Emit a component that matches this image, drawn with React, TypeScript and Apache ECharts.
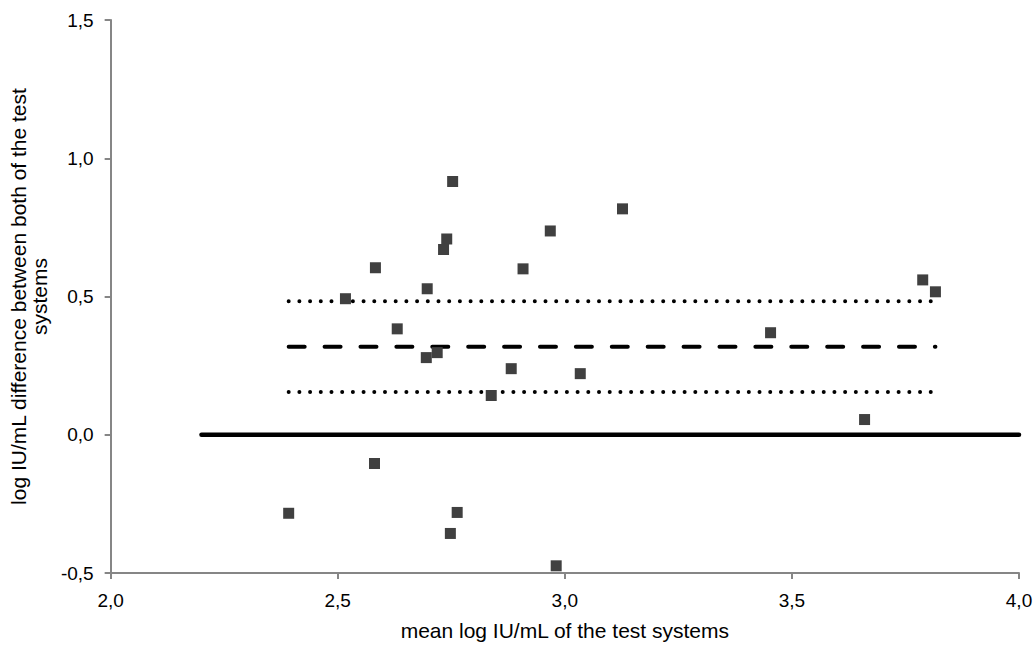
import React, { useEffect, useRef } from "react";
import * as echarts from "echarts";

// Bland-Altman style data: mean log IU/mL (x) vs difference (y)
const meanLog: number[] = [
  2.392, 2.517, 2.583, 2.581, 2.631, 2.695, 2.697, 2.719, 2.733, 2.740, 2.753, 2.748,
  2.763, 2.838, 2.882, 2.908, 2.968, 2.981, 3.034, 3.127, 3.453, 3.660, 3.788, 3.816,
];
const diffLog: number[] = [
  -0.284, 0.492, 0.604, -0.104, 0.383, 0.279, 0.528, 0.297, 0.670, 0.708, 0.916, -0.357,
  -0.281, 0.142, 0.239, 0.600, 0.737, -0.474, 0.221, 0.817, 0.369, 0.055, 0.560, 0.517,
];

const meanDiff = 0.318;
const upperLimit = 0.483;
const lowerLimit = 0.155;
const zeroLine = 0;
const zeroLineRange: number[] = [2.2, 4.0];

const xTicks = { min: 2.0, max: 4.0, interval: 0.5 };
const yTicks = { min: -0.5, max: 1.5, interval: 0.5 };

const xTitle = "mean log IU/mL of the test systems";
const yTitle = "log IU/mL difference between both of the test\nsystems";

const FONT = "'Liberation Sans', Arial, sans-serif";
const fmt = (v: number) => v.toFixed(1).replace(".", ",");

export default function App() {
  const ref = useRef<HTMLDivElement>(null);
  useEffect(() => {
    if (!ref.current) return;
    const chart = echarts.init(ref.current, null, { renderer: "svg" });
    const xMin = Math.min(...meanLog);
    const xMax = Math.max(...meanLog);
    const points = meanLog.map((x, i) => [x, diffLog[i]]);
    const axisLine = { lineStyle: { color: "#868686", width: 2 } };
    chart.setOption({
      animation: false,
      backgroundColor: "#ffffff",
      grid: { left: 109, right: 17, top: 20, bottom: 72, containLabel: false },
      xAxis: {
        type: "value",
        min: xTicks.min,
        max: xTicks.max,
        interval: xTicks.interval,
        name: xTitle,
        nameLocation: "middle",
        nameGap: 47,
        nameTextStyle: { fontFamily: FONT, fontSize: 21, color: "#000" },
        axisLine: { ...axisLine, onZero: false },
        axisTick: { show: true, length: 6, lineStyle: { color: "#868686", width: 2 } },
        axisLabel: { formatter: fmt, fontFamily: FONT, fontSize: 19, color: "#000", margin: 18 },
        splitLine: { show: false },
      },
      yAxis: {
        type: "value",
        min: yTicks.min,
        max: yTicks.max,
        interval: yTicks.interval,
        name: yTitle,
        nameLocation: "middle",
        nameRotate: 90,
        nameGap: 56,
        nameTextStyle: { fontFamily: FONT, fontSize: 21, lineHeight: 21, color: "#000", align: "center" },
        axisLine: { show: true, ...axisLine },
        axisTick: { show: true, length: 6, lineStyle: { color: "#868686", width: 2 } },
        axisLabel: { formatter: fmt, fontFamily: FONT, fontSize: 19, color: "#000", margin: 17 },
        splitLine: { show: false },
      },
      series: [
        {
          type: "line",
          data: [[zeroLineRange[0], zeroLine], [zeroLineRange[1], zeroLine]],
          symbol: "none",
          lineStyle: { color: "#000", width: 4.5, cap: "round" },
          z: 2,
        },
        {
          type: "line",
          data: [[xMin, upperLimit], [xMax, upperLimit]],
          symbol: "none",
          lineStyle: { color: "#000", width: 4, type: [0.001, 10.7], cap: "round" },
          z: 2,
        },
        {
          type: "line",
          data: [[xMin, meanDiff], [xMax, meanDiff]],
          symbol: "none",
          lineStyle: { color: "#000", width: 4, type: [16, 19.9], cap: "round" },
          z: 2,
        },
        {
          type: "line",
          data: [[xMin, lowerLimit], [xMax, lowerLimit]],
          symbol: "none",
          lineStyle: { color: "#000", width: 4, type: [0.001, 10.7], cap: "round" },
          z: 2,
        },
        {
          type: "scatter",
          data: points,
          symbol: "rect",
          symbolSize: 11,
          itemStyle: { color: "#404040", opacity: 1 },
          z: 3,
        },
      ],
    });
    return () => chart.dispose();
  }, []);
  return (
    <div
      ref={ref}
      style={{ position: "fixed", left: 0, top: 0, width: 1036, height: 646, background: "#fff" }}
    />
  );
}
